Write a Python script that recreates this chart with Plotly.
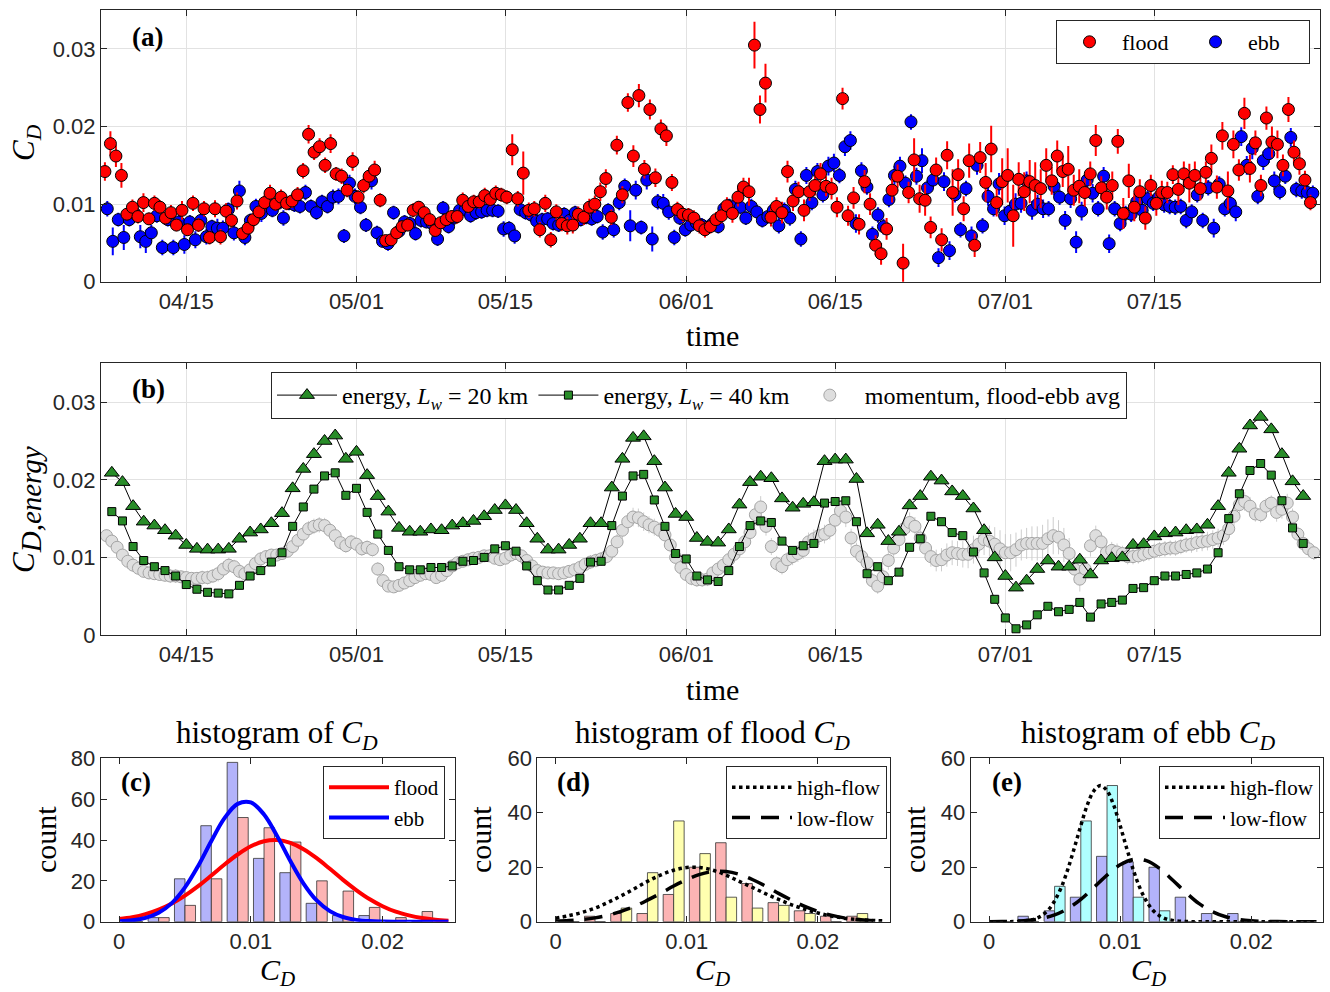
import numpy as np
import pandas as pd
import plotly.graph_objects as go

W, H = 1330, 992

# ---------------- panel (a): C_D from momentum balance (values in units of 1e-4) ----------------
flood_start = "2017-04-07 08:24"
ebb_start = "2017-04-07 13:45"
tidal_period_hours = 12.42

flood_cd = [
    142, 178, 162, 137, 87, 96, 84, 102, 81, 101,
    96, 82, 89, 73, 92, 67, 101, 73, 94, 57,
    94, 58, 91, 79, 104, 62, 69, 80, 90, 102,
    114, 100, 109, 101, 104, 112, 143, 190, 167, 174,
    150, 178, 139, 136, 118, 155, 109, 124, 136, 144,
    105, 53, 54, 63, 71, 73, 92, 96, 89, 80,
    66, 76, 80, 84, 84, 105, 97, 103, 103, 111,
    106, 114, 112, 109, 170, 107, 140, 92, 94, 67,
    101, 54, 90, 75, 72, 73, 87, 83, 96, 100,
    116, 133, 83, 176, 112, 231, 162, 240, 145, 222,
    134, 197, 188, 128, 93, 87, 86, 82, 72, 67,
    71, 80, 85, 98, 88, 109, 122, 116, 305, 222,
    256, 83, 97, 89, 142, 104, 116, 92, 116, 124,
    139, 123, 120, 96, 236, 85, 108, 74, 129, 100,
    47, 36, 68, 118, 136, 24, 115, 157, 107, 105,
    70, 144, 54, 163, 115, 138, 94, 156, 47, 160,
    128, 171, 102, 129, 137, 85, 132, 116, 129, 124,
    120, 150, 130, 162, 142, 145, 118, 123, 115, 139,
    182, 121, 109, 124, 181, 88, 130, 96, 116, 82,
    124, 101, 115, 115, 138, 119, 139, 127, 137, 120,
    141, 159, 122, 188, 117, 177, 144, 217, 146, 179,
    124, 211, 180, 177, 150, 222, 167, 152, 131, 102,
]
flood_err = [
    12, 16, 14, 16, 8, 10, 9, 12, 8, 10,
    9, 8, 10, 8, 12, 8, 10, 9, 10, 9,
    11, 10, 10, 9, 11, 8, 9, 10, 9, 10,
    11, 9, 10, 9, 9, 10, 10, 12, 10, 11,
    10, 12, 9, 10, 9, 12, 9, 10, 11, 12,
    9, 7, 7, 8, 8, 8, 9, 8, 8, 9,
    8, 8, 8, 8, 9, 10, 9, 9, 9, 10,
    9, 10, 9, 9, 20, 10, 28, 10, 10, 10,
    11, 10, 10, 10, 11, 11, 10, 10, 11, 11,
    12, 12, 10, 12, 11, 12, 14, 15, 12, 13,
    12, 12, 13, 11, 10, 10, 9, 10, 10, 10,
    9, 10, 10, 11, 12, 12, 12, 18, 30, 18,
    25, 12, 12, 14, 14, 13, 13, 14, 12, 13,
    14, 13, 14, 13, 14, 13, 14, 13, 15, 14,
    13, 14, 14, 16, 15, 25, 14, 28, 18, 20,
    14, 16, 15, 18, 30, 20, 16, 22, 15, 20,
    25, 30, 18, 30, 35, 40, 22, 25, 28, 30,
    25, 22, 18, 20, 20, 30, 20, 22, 18, 16,
    20, 15, 16, 18, 16, 20, 22, 18, 16, 15,
    14, 16, 15, 14, 12, 20, 16, 25, 18, 15,
    14, 18, 15, 18, 25, 18, 14, 20, 18, 16,
    14, 15, 20, 18, 14, 16, 15, 14, 12, 10,
]
ebb_cd = [
    94, 52, 80, 57, 80, 88, 58, 52, 63, 85,
    44, 80, 44, 77, 48, 77, 54, 79, 58, 71,
    69, 69, 93, 63, 117, 57, 79, 97, 88, 103,
    92, 101, 82, 101, 99, 97, 115, 97, 89, 103,
    97, 109, 110, 59, 127, 110, 96, 73, 130, 63,
    52, 49, 89, 65, 77, 75, 62, 79, 77, 75,
    55, 95, 71, 82, 92, 93, 85, 89, 90, 92,
    92, 91, 68, 69, 59, 93, 89, 86, 78, 80,
    81, 75, 73, 87, 79, 89, 80, 83, 81, 84,
    64, 92, 67, 102, 123, 72, 118, 70, 131, 55,
    103, 101, 90, 57, 82, 67, 73, 76, 73, 70,
    75, 71, 94, 98, 97, 96, 82, 97, 90, 79,
    84, 92, 72, 92, 82, 119, 55, 137, 102, 142,
    112, 149, 153, 137, 174, 182, 75, 143, 122, 61,
    86, 71, 106, 137, 149, 127, 206, 136, 156, 121,
    131, 31, 129, 40, 112, 67, 120, 59, 150, 72,
    110, 94, 126, 85, 91, 100, 101, 130, 92, 100,
    94, 94, 123, 109, 79, 107, 51, 91, 131, 114,
    94, 136, 49, 94, 75, 88, 87, 103, 92, 107,
    101, 109, 99, 97, 96, 97, 79, 90, 112, 79,
    121, 69, 126, 94, 101, 90, 187, 150, 172, 110,
    156, 165, 130, 116, 136, 186, 119, 117, 115, 114,
]
ebb_err = [
    10, 18, 9, 16, 9, 10, 15, 15, 10, 9,
    10, 9, 10, 9, 12, 9, 11, 9, 10, 9,
    12, 10, 9, 10, 13, 10, 9, 10, 11, 9,
    9, 9, 10, 9, 9, 9, 10, 9, 9, 9,
    9, 10, 10, 9, 11, 10, 9, 9, 11, 9,
    8, 9, 9, 8, 9, 9, 9, 9, 8, 9,
    9, 9, 9, 8, 9, 9, 9, 9, 9, 9,
    9, 9, 10, 9, 10, 9, 9, 9, 9, 9,
    9, 9, 9, 9, 9, 9, 9, 9, 9, 9,
    10, 9, 10, 10, 10, 20, 12, 9, 12, 16,
    10, 12, 10, 10, 9, 9, 9, 9, 9, 9,
    9, 9, 9, 9, 9, 9, 9, 10, 9, 9,
    9, 9, 10, 10, 10, 11, 10, 11, 10, 11,
    10, 12, 12, 10, 12, 12, 12, 11, 10, 10,
    10, 10, 10, 12, 12, 10, 10, 11, 16, 10,
    10, 12, 12, 12, 10, 10, 10, 12, 12, 10,
    12, 10, 14, 12, 12, 14, 12, 12, 12, 12,
    12, 10, 12, 10, 12, 12, 14, 12, 12, 12,
    10, 12, 12, 10, 10, 10, 10, 10, 10, 10,
    10, 10, 10, 10, 10, 10, 10, 10, 10, 10,
    10, 12, 10, 10, 10, 12, 12, 12, 14, 10,
    12, 12, 12, 10, 10, 12, 10, 10, 10, 10,
]

# ---------------- panel (b): C_D from energy balance (units of 1e-4), daily ----------------
energy_start = "2017-04-08"
energy_20km = [
    209, 197, 166, 146, 141, 135, 128, 116, 111, 110,
    110, 111, 124, 132, 136, 144, 157, 189, 214, 233,
    250, 257, 227, 236, 206, 179, 159, 138, 133, 133,
    136, 135, 141, 144, 147, 153, 161, 167, 161, 144,
    124, 110, 110, 116, 124, 144, 144, 190, 227, 254,
    256, 224, 190, 156, 152, 125, 120, 119, 136, 168,
    197, 204, 202, 176, 164, 169, 171, 224, 226, 226,
    201, 131, 142, 121, 133, 167, 179, 204, 199, 185,
    179, 163, 135, 100, 76, 61, 70, 85, 96, 88,
    88, 97, 78, 96, 99, 100, 116, 117, 127, 131,
    132, 135, 136, 142, 166, 209, 240, 270, 281, 265,
    233, 198, 179,
]
energy_40km = [
    159, 147, 114, 96, 88, 83, 76, 65, 59, 55,
    54, 53, 64, 76, 83, 94, 106, 140, 165, 188,
    205, 209, 180, 189, 158, 130, 109, 88, 84, 84,
    87, 87, 89, 95, 96, 100, 111, 115, 108, 89,
    70, 58, 58, 64, 73, 94, 95, 141, 179, 205,
    207, 174, 140, 105, 98, 76, 71, 69, 83, 114,
    141, 147, 145, 121, 109, 115, 118, 170, 172, 173,
    146, 79, 88, 70, 81, 113, 124, 153, 146, 132,
    128, 107, 80, 46, 22, 8, 13, 26, 37, 30,
    33, 42, 23, 40, 42, 45, 60, 61, 70, 76,
    76, 78, 80, 85, 106, 150, 182, 212, 221, 206,
    173, 138, 118,
]
# momentum, flood-ebb average (units of 1e-4), every 12 h
momentum_start = "2017-04-07 12:00"
momentum_avg = [
    128, 121, 113, 103, 95, 90, 86, 82, 80, 79,
    78, 77, 76, 76, 75, 74, 73, 73, 74, 74,
    76, 79, 85, 90, 88, 82, 79, 84, 92, 98,
    101, 103, 103, 105, 108, 114, 122, 130, 137, 140,
    142, 141, 135, 128, 119, 115, 120, 117, 111, 113,
    110, 85, 70, 63, 62, 64, 67, 70, 74, 77,
    79, 78, 74, 77, 83, 89, 93, 95, 97, 99,
    100, 102, 102, 99, 97, 99, 103, 105, 102, 96,
    89, 83, 81, 80, 80, 79, 80, 82, 84, 87,
    91, 94, 96, 98, 101, 108, 120, 135, 146, 152,
    151, 146, 142, 139, 135, 129, 116, 100, 87, 78,
    73, 71, 71, 72, 80, 85, 90, 97, 104, 111,
    120, 132, 155, 165, 140, 114, 92, 88, 97, 101,
    105, 109, 120, 124, 128, 130, 135, 148, 160, 152,
    125, 108, 101, 93, 70, 63, 75, 96, 112, 123,
    137, 145, 140, 125, 112, 101, 96, 97, 103, 106,
    105, 104, 104, 110, 117, 123, 121, 117, 111, 106,
    106, 110, 116, 118, 118, 118, 118, 124, 128, 126,
    116, 105, 85, 72, 85, 115, 128, 120, 106, 109,
    107, 105, 101, 101, 102, 104, 106, 108, 110, 111,
    112, 112, 114, 116, 117, 119, 120, 121, 123, 125,
    128, 137, 153, 168, 172, 166, 156, 155, 166, 170,
    158, 162, 170, 152, 130, 118, 111, 106,
]
momentum_err = [
    8, 8, 9, 10, 10, 9, 9, 8, 8, 8,
    8, 8, 9, 9, 8, 8, 8, 8, 9, 9,
    9, 10, 10, 10, 9, 9, 9, 9, 9, 9,
    8, 8, 8, 8, 8, 9, 9, 9, 10, 10,
    10, 10, 9, 9, 9, 9, 9, 9, 9, 9,
    9, 9, 8, 7, 7, 7, 7, 7, 8, 8,
    8, 8, 8, 8, 8, 8, 8, 8, 8, 8,
    8, 8, 8, 8, 8, 8, 8, 8, 8, 8,
    8, 8, 8, 8, 8, 8, 8, 8, 8, 9,
    9, 9, 9, 9, 9, 10, 10, 11, 11, 12,
    12, 12, 11, 11, 10, 10, 10, 10, 9, 9,
    9, 9, 9, 9, 9, 10, 10, 10, 10, 11,
    11, 12, 14, 14, 12, 11, 10, 10, 10, 11,
    11, 11, 12, 12, 12, 12, 12, 13, 14, 13,
    12, 11, 11, 11, 10, 10, 11, 12, 13, 13,
    13, 13, 12, 12, 12, 13, 14, 15, 15, 16,
    16, 17, 18, 18, 18, 20, 20, 22, 24, 24,
    24, 22, 20, 20, 22, 22, 24, 25, 24, 22,
    22, 20, 18, 16, 15, 14, 13, 12, 12, 11,
    11, 10, 10, 10, 10, 10, 10, 10, 10, 10,
    10, 10, 10, 10, 11, 12, 12, 12, 12, 12,
    12, 12, 12, 12, 12, 12, 10, 10, 10, 10,
    12, 12, 12, 11, 10, 10, 10, 9,
]

time_ticks = ["2017-04-15", "2017-05-01", "2017-05-15", "2017-06-01",
              "2017-06-15", "2017-07-01", "2017-07-15"]
time_labels = ["04/15", "05/01", "05/15", "06/01", "06/15", "07/01", "07/15"]
time_range = ["2017-04-06 23:35", "2017-07-30 13:55"]
cd_ticks = [0, 0.01, 0.02, 0.03]
cd_tick_labels = ["0", "0.01", "0.02", "0.03"]

# ---------------- histograms (c), (d), (e) ----------------
bin_centers = [0.001, 0.003, 0.005, 0.007, 0.009, 0.011, 0.013, 0.015, 0.017, 0.019, 0.021, 0.023]
count_all_ebb = [0, 2, 21, 47, 78, 31, 24, 9, 3, 3, 0, 0]
count_all_flood = [0, 2, 8, 21, 51, 46, 39, 20, 15, 7, 2, 5]
count_flood_low = [0, 2, 3, 3, 10, 20, 29, 14, 7, 4, 2, 2]
count_flood_high = [0, 0, 5, 18, 37, 25, 9, 5, 6, 3, 0, 3]
count_ebb_low = [0, 2, 4, 9, 24, 22, 20, 9, 3, 3, 0, 0]
count_ebb_high = [0, 0, 13, 37, 50, 9, 4, 0, 0, 0, 0, 0]

fit_x = [0.000, 0.001, 0.002, 0.003, 0.004, 0.005, 0.006, 0.007, 0.008, 0.009,
         0.010, 0.011, 0.012, 0.013, 0.014, 0.015, 0.016, 0.017, 0.018, 0.019,
         0.020, 0.021, 0.022, 0.023, 0.024, 0.025]
fit_all_flood = [1.3, 2.2, 3.7, 5.9, 8.9, 12.8, 17.4, 22.6, 28.0, 32.9,
                 36.9, 39.4, 40.0, 38.6, 35.5, 31.1, 25.9, 20.5, 15.5, 11.1,
                 7.6, 4.9, 3.1, 1.8, 1.0, 0.5]
fit_all_ebb = [0.25, 0.7, 1.9, 4.4, 9.1, 16.8, 27.3, 39.5, 50.7, 57.7,
               58.4, 52.5, 41.9, 29.7, 18.7, 10.4, 5.2, 2.3, 0.9, 0.3,
               0.1, 0.03, 0.01, 0, 0, 0]
fit_flood_high = [1.3, 2.2, 3.4, 5.0, 7.1, 9.5, 12.1, 14.8, 17.1, 18.9,
                  19.9, 19.9, 18.9, 17.1, 14.8, 12.6, 10.3, 8.2, 6.2, 4.6,
                  3.2, 2.1, 1.3, 0.8, 0.5, 0.3]
fit_flood_low = [0.2, 0.4, 0.8, 1.4, 2.4, 3.8, 5.6, 7.9, 10.4, 13.1,
                 15.5, 17.4, 18.4, 18.4, 17.4, 15.5, 13.1, 10.4, 7.9, 5.6,
                 3.8, 2.4, 1.4, 0.8, 0.4, 0.2]
fit_ebb_low = [0.02, 0.06, 0.19, 0.5, 1.2, 2.5, 4.8, 8.2, 12.6, 17.1,
               20.9, 22.9, 22.4, 19.6, 15.3, 10.8, 6.7, 3.8, 1.9, 0.85,
               0.35, 0.12, 0.04, 0.01, 0, 0]
fit_ebb_high_x = [0.000, 0.001, 0.002, 0.003, 0.0035, 0.004, 0.0045, 0.005, 0.0055, 0.006,
                  0.0065, 0.007, 0.0075, 0.008, 0.0085, 0.009, 0.0095, 0.010, 0.0105, 0.011,
                  0.0115, 0.012, 0.0125, 0.013, 0.0135, 0.014, 0.015, 0.016, 0.018, 0.020,
                  0.022, 0.025]
fit_ebb_high = [0, 0.01, 0.07, 0.47, 1.05, 2.2, 4.2, 7.6, 12.5, 19.1,
                27.0, 35.3, 42.9, 48.1, 50.0, 48.1, 42.9, 35.3, 27.0, 19.1,
                12.5, 7.6, 4.2, 2.2, 1.05, 0.47, 0.07, 0, 0, 0,
                0, 0]

# ---------------- build ----------------
SCALE = 1e-4
flood_t = pd.date_range(flood_start, periods=len(flood_cd), freq=pd.Timedelta(hours=tidal_period_hours))
ebb_t = pd.date_range(ebb_start, periods=len(ebb_cd), freq=pd.Timedelta(hours=tidal_period_hours))
energy_t = pd.date_range(energy_start, periods=len(energy_20km), freq="1D")
mom_t = pd.date_range(momentum_start, periods=len(momentum_avg), freq="12h")

AX = "#262626"
SERIF = "Liberation Serif, Times New Roman, serif"
SANS = "Liberation Sans, Arial, sans-serif"


def px_x(x):
    return x / W


def px_y(y):
    return 1 - y / H


fig = go.Figure()

# panel (a)
fig.add_trace(go.Scatter(
    x=ebb_t, y=np.array(ebb_cd) * SCALE, mode="markers", name="ebb",
    xaxis="x", yaxis="y", legend="legend", legendrank=2,
    marker=dict(symbol="circle", size=12, color="rgb(0,0,255)", line=dict(color="black", width=1)),
    error_y=dict(type="data", array=np.array(ebb_err) * SCALE, color="rgb(0,0,255)", thickness=2, width=0)))
fig.add_trace(go.Scatter(
    x=flood_t, y=np.array(flood_cd) * SCALE, mode="markers", name="flood",
    xaxis="x", yaxis="y", legend="legend", legendrank=1,
    marker=dict(symbol="circle", size=12, color="rgb(255,0,0)", line=dict(color="black", width=1)),
    error_y=dict(type="data", array=np.array(flood_err) * SCALE, color="rgb(255,0,0)", thickness=2, width=0)))

# panel (b)
GREEN = "rgb(40,140,40)"
fig.add_trace(go.Scatter(
    x=mom_t, y=np.array(momentum_avg) * SCALE, mode="markers", name="momentum, flood-ebb avg",
    xaxis="x2", yaxis="y2", legend="legend2", legendrank=3,
    marker=dict(symbol="circle", size=12, color="rgb(222,222,222)", line=dict(color="rgb(165,165,165)", width=1)),
    error_y=dict(type="data", array=np.array(momentum_err) * SCALE, color="rgb(205,205,205)", thickness=1, width=0)))
fig.add_trace(go.Scatter(
    x=energy_t, y=np.array(energy_40km) * SCALE, mode="lines+markers",
    name="energy, <i>L<sub>w</sub></i> = 40 km",
    xaxis="x2", yaxis="y2", legend="legend2", legendrank=2,
    line=dict(color="black", width=1),
    marker=dict(symbol="square", size=8, color=GREEN, line=dict(color="black", width=1))))
fig.add_trace(go.Scatter(
    x=energy_t, y=np.array(energy_20km) * SCALE, mode="lines+markers",
    name="energy, <i>L<sub>w</sub></i> = 20 km",
    xaxis="x2", yaxis="y2", legend="legend2", legendrank=1,
    line=dict(color="black", width=1),
    marker=dict(symbol="triangle-up", size=13, color=GREEN, line=dict(color="black", width=1))))

# histograms
BAR_EDGE = dict(color="rgba(40,40,40,0.75)", width=1)


def add_bars(xa, ya, left, right, cl, cr):
    fig.add_trace(go.Bar(x=bin_centers, y=left, xaxis=xa, yaxis=ya, offsetgroup="L",
                         marker=dict(color=cl, line=BAR_EDGE), showlegend=False))
    fig.add_trace(go.Bar(x=bin_centers, y=right, xaxis=xa, yaxis=ya, offsetgroup="R",
                         marker=dict(color=cr, line=BAR_EDGE), showlegend=False))


add_bars("x3", "y3", count_all_ebb, count_all_flood, "rgb(179,179,250)", "rgb(252,180,180)")
add_bars("x4", "y4", count_flood_low, count_flood_high, "rgb(252,180,180)", "rgb(255,255,175)")
add_bars("x5", "y5", count_ebb_low, count_ebb_high, "rgb(179,179,250)", "rgb(175,255,255)")

fig.add_trace(go.Scatter(x=fit_x, y=fit_all_flood, mode="lines", name="flood", xaxis="x3", yaxis="y3",
                         legend="legend3", line=dict(color="rgb(255,0,0)", width=4, shape="spline")))
fig.add_trace(go.Scatter(x=fit_x, y=fit_all_ebb, mode="lines", name="ebb", xaxis="x3", yaxis="y3",
                         legend="legend3", line=dict(color="rgb(0,0,255)", width=4, shape="spline")))

fig.add_trace(go.Scatter(x=fit_x, y=fit_flood_high, mode="lines", name="high-flow", xaxis="x4", yaxis="y4",
                         legend="legend4", line=dict(color="black", width=3.5, dash="dot", shape="spline")))
fig.add_trace(go.Scatter(x=fit_x, y=fit_flood_low, mode="lines", name="low-flow", xaxis="x4", yaxis="y4",
                         legend="legend4", line=dict(color="black", width=3.5, dash="18px,11px", shape="spline")))
fig.add_trace(go.Scatter(x=fit_ebb_high_x, y=fit_ebb_high, mode="lines", name="high-flow", xaxis="x5", yaxis="y5",
                         legend="legend5", line=dict(color="black", width=3.5, dash="dot", shape="spline")))
fig.add_trace(go.Scatter(x=fit_x, y=fit_ebb_low, mode="lines", name="low-flow", xaxis="x5", yaxis="y5",
                         legend="legend5", line=dict(color="black", width=3.5, dash="18px,11px", shape="spline")))

# ---------------- axes ----------------
base = dict(showline=True, linecolor=AX, linewidth=1, mirror="ticks", ticks="inside", ticklen=6,
            tickcolor=AX, tickwidth=1, zeroline=False, automargin=False,
            tickfont=dict(family=SANS, size=22, color=AX))
grid = dict(showgrid=True, gridcolor="rgb(226,226,226)", gridwidth=1)
nogrid = dict(showgrid=False)

top_dom_x = [px_x(101), px_x(1320)]
hist_y = [px_y(921.7), px_y(758.3)]
hist_xr = [-0.0014, 0.0255]

layout = dict(
    template="none",
    width=W, height=H, margin=dict(l=0, r=0, t=0, b=0, pad=0, autoexpand=False),
    paper_bgcolor="white", plot_bgcolor="white",
    font=dict(family=SANS, color="black", size=16),
    barmode="group", bargap=0.2, bargroupgap=0,
    xaxis=dict(base, **grid, domain=top_dom_x, anchor="y", type="date", range=time_range,
               tickvals=time_ticks, ticktext=time_labels),
    yaxis=dict(base, **grid, domain=[px_y(281.7), px_y(10.2)], anchor="x", range=[0, 0.035],
               tickvals=cd_ticks, ticktext=cd_tick_labels),
    xaxis2=dict(base, **grid, domain=top_dom_x, anchor="y2", type="date", range=time_range,
                tickvals=time_ticks, ticktext=time_labels),
    yaxis2=dict(base, **grid, domain=[px_y(635), px_y(363.4)], anchor="x2", range=[0, 0.035],
                tickvals=cd_ticks, ticktext=cd_tick_labels),
    xaxis3=dict(base, **nogrid, domain=[px_x(100.7), px_x(455)], anchor="y3", range=hist_xr,
                tickvals=[0, 0.01, 0.02], ticktext=["0", "0.01", "0.02"]),
    yaxis3=dict(base, **nogrid, domain=hist_y, anchor="x3", range=[0, 80], tickvals=[0, 20, 40, 60, 80]),
    xaxis4=dict(base, **nogrid, domain=[px_x(537.3), px_x(890)], anchor="y4", range=hist_xr,
                tickvals=[0, 0.01, 0.02], ticktext=["0", "0.01", "0.02"]),
    yaxis4=dict(base, **nogrid, domain=hist_y, anchor="x4", range=[0, 60], tickvals=[0, 20, 40, 60]),
    xaxis5=dict(base, **nogrid, domain=[px_x(970.7), px_x(1323.3)], anchor="y5", range=hist_xr,
                tickvals=[0, 0.01, 0.02], ticktext=["0", "0.01", "0.02"]),
    yaxis5=dict(base, **nogrid, domain=hist_y, anchor="x5", range=[0, 60], tickvals=[0, 20, 40, 60]),
)

leg_common = dict(bgcolor="white", bordercolor=AX, borderwidth=1,
                  font=dict(family=SERIF, size=22, color="black"))
small_leg_font = dict(family=SERIF, size=21, color="black")
layout["legend"] = dict(leg_common, x=px_x(1310), xanchor="right", y=px_y(20), yanchor="top",
                        orientation="h", entrywidth=56, itemwidth=55)
layout["legend2"] = dict(leg_common, font=dict(family=SERIF, size=24, color="black"),
                         x=px_x(271), xanchor="left", y=px_y(372), yanchor="top",
                         orientation="h", itemwidth=60)
layout["legend3"] = dict(leg_common, font=small_leg_font, x=px_x(445), xanchor="right",
                         y=px_y(766), yanchor="top", tracegroupgap=0, itemwidth=60)
layout["legend4"] = dict(leg_common, font=small_leg_font, x=px_x(887), xanchor="right",
                         y=px_y(766), yanchor="top", tracegroupgap=0, itemwidth=60)
layout["legend5"] = dict(leg_common, font=small_leg_font, x=px_x(1320), xanchor="right",
                         y=px_y(766), yanchor="top", tracegroupgap=0, itemwidth=60)


def ann(text, x, y, size, angle=0, family=SERIF):
    return dict(text=text, x=px_x(x), y=px_y(y), xref="paper", yref="paper", showarrow=False,
                xanchor="center", yanchor="middle", textangle=angle,
                font=dict(family=family, size=size, color="black"))


CD = "<i>C</i><sub><i>D</i></sub>"
annotations = [
    ann("<b>(a)</b>", 147, 37, 27),
    ann("<b>(b)</b>", 148, 389, 27),
    ann("<b>(c)</b>", 136, 782, 27),
    ann("<b>(d)</b>", 573, 782, 27),
    ann("<b>(e)</b>", 1007, 782, 27),
    ann("time", 713, 336, 30),
    ann("time", 713, 689, 30),
    ann(CD, 26, 143, 31, angle=-90),
    ann("<i>C</i><sub><span style='font-size:29px'><i>D,energy</i></span></sub>", 26, 510, 31, angle=-90),
    ann("histogram of " + CD, 277, 735, 31),
    ann("histogram of flood " + CD, 713, 735, 31),
    ann("histogram of ebb " + CD, 1148, 735, 31),
    ann("count", 45, 840, 30, angle=-90),
    ann("count", 480, 840, 30, angle=-90),
    ann("count", 914, 840, 30, angle=-90),
    ann(CD, 277, 972, 30),
    ann(CD, 713, 972, 30),
    ann(CD, 1148, 972, 30),
]
layout["annotations"] = annotations

fig.update_layout(layout)
fig.write_html(
    "out.html",
    config={"displayModeBar": False},
    post_script="document.body.style.margin='0';document.body.style.padding='0';"
                "document.documentElement.style.overflow='hidden';",
)
